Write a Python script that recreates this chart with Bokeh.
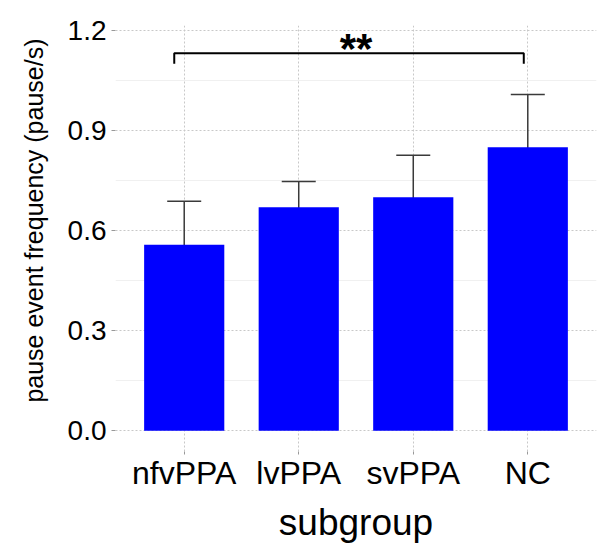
from bokeh.plotting import figure
from bokeh.models import ColumnDataSource, Range1d, FixedTicker, Whisker, TeeHead, Title
from bokeh.embed import file_html
from bokeh.resources import INLINE
from bokeh.core.properties import value

# ---- data ----
categories = ["nfvPPA", "lvPPA", "svPPA", "NC"]
positions = [1, 2, 3, 4]
means = [0.558, 0.670, 0.700, 0.850]
err_upper = [0.688, 0.747, 0.826, 1.008]
err_lower = [0.432, 0.591, 0.573, 0.693]
y_ticks = [0.0, 0.3, 0.6, 0.9, 1.2]
y_minor = [0.15, 0.45, 0.75, 1.05]
# significance bracket (nfvPPA vs NC)
bracket_x = [0.913, 0.913, 3.965, 3.965]
bracket_y = [1.100, 1.132, 1.132, 1.100]
sig_label = "**"
sig_x = [2.5]
sig_y = [1.147]
y_title = "pause event frequency (pause/s)"
x_title = "subgroup"

FONT = "Liberation Sans"

src = ColumnDataSource(dict(x=positions, top=means, upper=err_upper, lower=err_lower))

p = figure(width=600, height=545, output_backend="svg", toolbar_location=None,
           x_range=Range1d(0.4, 4.6), y_range=Range1d(-0.062, 1.215),
           min_border_left=114, min_border_right=4, min_border_top=25, min_border_bottom=88)
p.outline_line_color = None
p.background_fill_color = "white"
p.border_fill_color = "white"

p.vbar(x="x", top="top", bottom=0, width=0.7, source=src,
       fill_color="#0000ff", line_color=None)

w = Whisker(base="x", upper="upper", lower="lower", source=src,
            line_color="#3a3a3a", line_width=1.5,
            upper_head=TeeHead(size=34, line_color="#3a3a3a", line_width=1.5),
            lower_head=TeeHead(size=34, line_color="#3a3a3a", line_width=1.5))
p.add_layout(w)

p.line(bracket_x, bracket_y, line_color="black", line_width=2)
p.text(x=sig_x, y=sig_y, text=[sig_label], text_font=value(FONT),
       text_font_size="42px", text_font_style="bold", text_align="center",
       text_baseline="alphabetic", text_color="black")

# axes
p.xaxis.ticker = FixedTicker(ticks=positions)
p.xaxis.major_label_overrides = {pos: c for pos, c in zip(positions, categories)}
p.yaxis.ticker = FixedTicker(ticks=y_ticks, minor_ticks=y_minor)
p.yaxis.major_label_overrides = {t: f"{t:.1f}" for t in y_ticks}
p.yaxis.major_label_overrides[0] = "0.0"

for ax in (p.xaxis[0], p.yaxis[0]):
    ax.axis_line_color = None
    ax.major_tick_line_color = "#999999"
    ax.major_tick_in = 0
    ax.minor_tick_in = 0
    ax.minor_tick_out = 0
    ax.major_label_text_font = FONT
    ax.major_label_text_color = "black"
    ax.axis_label_text_font = FONT
    ax.axis_label_text_font_style = "normal"
    ax.axis_label_text_color = "black"

p.xaxis.major_tick_out = 3
p.xaxis.major_label_standoff = 0
p.xaxis.major_label_text_font_size = "32px"
p.xaxis.axis_label = x_title
p.xaxis.axis_label_text_font_size = "37px"
p.xaxis.axis_label_standoff = 8

p.yaxis.major_tick_out = 4
p.yaxis.major_label_standoff = 5
p.yaxis.major_label_text_font_size = "28px"

yt = Title(text=y_title, align="right", offset=13, standoff=34,
           text_font=FONT, text_font_size="25px", text_font_style="normal",
           text_color="black")
p.add_layout(yt, "left")

# grids
p.xgrid.ticker = FixedTicker(ticks=positions)
p.xgrid.grid_line_color = "#c8c8c8"
p.xgrid.grid_line_dash = "2 2"
p.xgrid.grid_line_width = 1
p.ygrid.grid_line_color = "#c8c8c8"
p.ygrid.grid_line_dash = "2 2"
p.ygrid.grid_line_width = 1
p.ygrid.minor_grid_line_color = "#f0f0f0"
p.ygrid.minor_grid_line_width = 1

open("out.html", "w").write(file_html(p, INLINE))
